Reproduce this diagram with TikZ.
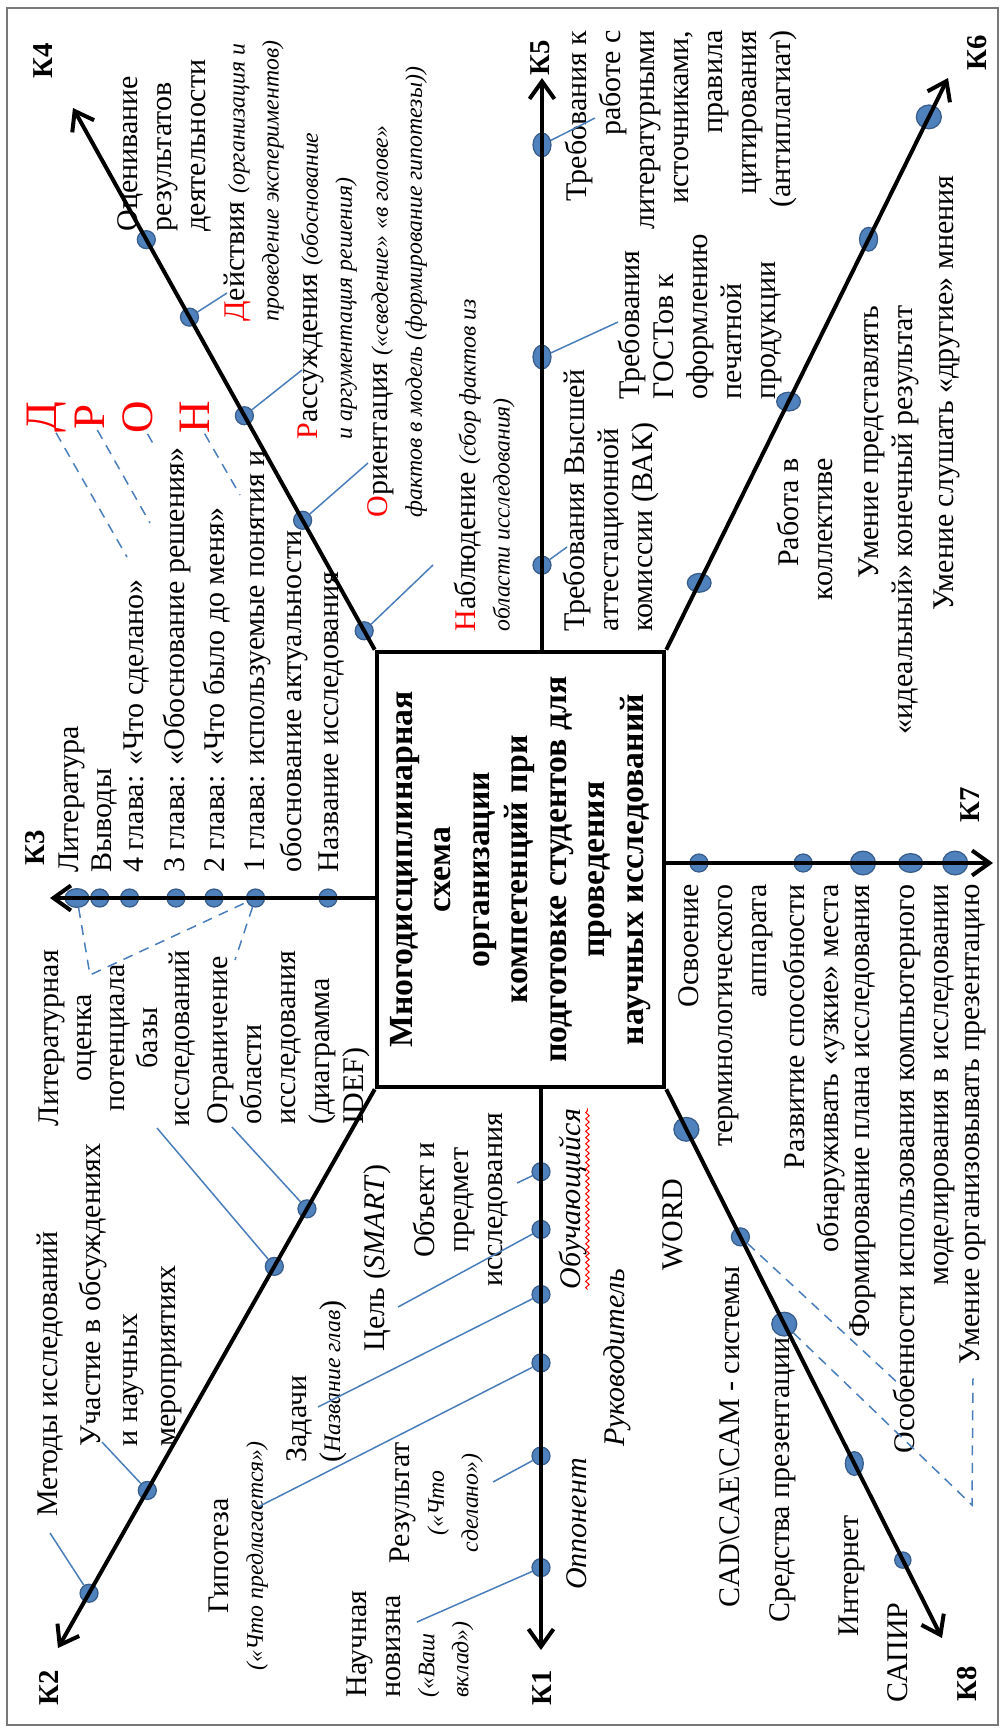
\documentclass[tikz,border=0pt]{standalone}
\usepackage{fontspec}
\setmainfont{Liberation Serif}
\usetikzlibrary{positioning,calc,arrows.meta,shapes.geometric,decorations.pathmorphing}

\definecolor{dotblue}{RGB}{79,129,189}
\definecolor{dotedge}{RGB}{56,93,138}
\definecolor{leadblue}{RGB}{74,126,187}
\definecolor{framegray}{RGB}{120,120,120}

\newcommand{\lblfont}{\fontsize{12}{13.6}\selectfont}
\newcommand{\itnote}[1]{{\fontsize{9.5}{11.5}\selectfont\itshape #1}}
\newcommand{\redcap}[1]{\textcolor{red}{#1}}

\tikzset{
  lbl/.style={rotate=90, inner sep=0pt, font=\lblfont},
  klbl/.style={rotate=90, inner sep=0pt, font=\fontsize{11.5}{13}\selectfont\bfseries},
  dronlbl/.style={rotate=90, inner sep=0pt, text=red, font=\fontsize{18}{18}\selectfont},
  dot/.style={ellipse, fill=dotblue, draw=dotedge, line width=0.5pt, inner sep=0pt,
    minimum width=7.2pt, minimum height=7.2pt},
  bigdot/.style={dot, minimum width=10pt, minimum height=9.5pt},
  talldot/.style={dot, minimum width=7.2pt, minimum height=9.5pt},
  widedot/.style={dot, minimum width=9.5pt, minimum height=7.5pt},
  axis/.style={line width=1.6pt, -{Straight Barb[length=7pt,width=10pt]}},
  leader/.style={draw=leadblue, line width=0.6pt},
  dashlink/.style={draw=leadblue, line width=0.6pt, dash pattern=on 4pt off 3pt},
  squiggle/.style={draw=red, line width=0.4pt, decorate,
    decoration={snake, amplitude=0.7pt, segment length=2.5pt}}
}

\begin{document}
\begin{tikzpicture}[x=0.4pt,y=-0.4pt]
\useasboundingbox (0,0) rectangle (1001,1728);
\draw[framegray, line width=0.8pt] (7,8) rectangle (998,1725);

% CENTRE

\node[rotate=90, draw, line width=1.8pt, inner sep=0pt, minimum width=174pt,
  minimum height=114.8pt, align=center, font=\fontsize{13.5}{15.4}\selectfont\bfseries]
  (box) at (520.5,869.5) {Многодисциплинарная\\схема\\организации\\компетенций при\\подготовке студентов для\\проведения\\научных исследований};

% AXIS ENDS

\coordinate (k1e) at (541,1650);
\coordinate (k2e) at (58,1648);
\coordinate (k3e) at (50,898);
\coordinate (k4e) at (73,108);
\coordinate (k5e) at (542,78);
\coordinate (k6e) at (948,78);
\coordinate (k7e) at (993,863);
\coordinate (k8e) at (942,1638);

\coordinate (k1s) at (k1e |- box.west);
\coordinate (k3s) at (k3e -| box.north);
\coordinate (k5s) at (k5e |- box.east);
\coordinate (k7s) at (k7e -| box.south);

% K4 LABELS

\node[lbl, anchor=west, align=left] (ocen) at (164,232) {Оценивание\\результатов\\деятельности};
\node[lbl, anchor=west, align=left] (deistv) at (254,322) {\redcap{Д}ействия \itnote{(организация и}\\\itnote{проведение экспериментов)}};
\node[lbl, anchor=west, align=left] (rassuzh) at (327.5,440) {\redcap{Р}ассуждения \itnote{(обоснование}\\\itnote{и аргументация решения)}};
\node[lbl, anchor=west, align=left] (orient) at (397.5,518) {\redcap{О}риентация \itnote{(«сведение» «в голове»}\\\itnote{фактов в модель (формирование гипотезы))}};
\node[lbl, anchor=west, align=left] (nabl) at (484.5,632) {\redcap{Н}аблюдение \itnote{(сбор фактов из}\\\itnote{области исследования)}};

\node[dronlbl] (dron1) at (47,417) {Д};
\node[dronlbl] (dron2) at (90,417) {Р};
\node[dronlbl] (dron3) at (138,417) {О};
\node[dronlbl] (dron4) at (195,417) {Н};

% K5 LABELS

\node[lbl, anchor=west, align=left] (vak) at (611,632) {Требования Высшей\\аттестационной\\комиссии (ВАК)};
\node[lbl, anchor=west, align=left] (gost) at (700,400) {Требования\\ГОСТов к\\оформлению\\печатной\\продукции};
\node[lbl, anchor=east, align=right] (antiplag) at (681,30) {Требования к\\работе с\\литературными\\источниками,\\правила\\цитирования\\(антиплагиат)};

% K6 LABELS

\node[lbl, anchor=east, align=right] (rabota) at (805,458) {Работа в\\коллективе};
\node[lbl, anchor=east, align=right] (predst) at (889,305) {Умение представлять\\«идеальный» конечный результат};
\node[lbl, anchor=east] (slushat) at (947,175) {Умение слушать «другие» мнения};

% K7 LABELS

\node[lbl, anchor=east, align=right] (osvoen) at (726,884) {Освоение\\терминологического\\аппарата};
\node[lbl, anchor=east, align=right] (razvit) at (814,884) {Развитие способности\\обнаруживать «узкие» места};
\node[lbl, anchor=east] (formir) at (863,884) {Формирование плана исследования};
\node[lbl, anchor=east, align=right] (osoben) at (923.5,884) {Особенности использования компьютерного\\моделирования в исследовании};
\node[lbl, anchor=east] (umprez) at (973,884) {Умение организовывать презентацию};

% K8 LABELS

\node[lbl] (word) at (673,1225) {WORD};
\node[lbl, anchor=west] (cad) at (730,1608) {CAD\textbackslash CAE\textbackslash CAM - системы};
\node[lbl, anchor=west] (sredstva) at (783,1623) {Средства презентации};
\node[lbl, anchor=west] (internet) at (852,1637) {Интернет};
\node[lbl, anchor=west] (sapir) at (898,1703) {САПИР};

% K1 LABELS

\node[lbl, align=center] (obekt) at (461,1200) {Объект и\\предмет\\исследования};
\node[lbl] (cel) at (377,1258) {Цель (\textit{SMART})};
\node[lbl, anchor=west, align=left] (zadachi) at (316.5,1463) {Задачи\\(\itnote{Название глав})};
\node[lbl, align=center] (gipoteza) at (238.5,1556) {Гипотеза\\\itnote{(«Что предлагается»)}};
\node[lbl, align=center] (rezultat) at (436.5,1503) {Результат\\\itnote{(«Что}\\\itnote{сделано»)}};
\node[lbl, anchor=west, align=left] (novizna) at (410,1698) {Научная\\новизна\\\itnote{(«Ваш}\\\itnote{вклад»)}};
\node[lbl, font=\lblfont\itshape] (obuch) at (573,1199) {Обучающийся};
\node[lbl, font=\lblfont\itshape] (rukov) at (617,1358) {Руководитель};
\node[lbl, font=\lblfont\itshape] (opponent) at (577,1524) {Оппонент};

% K2 LABELS

\node[lbl, anchor=west] (metody) at (50,1517) {Методы исследований};
\node[lbl, anchor=west, align=left, font=\fontsize{12}{15}\selectfont] (uchastie) at (130,1447) {Участие в обсуждениях\\и научных\\мероприятиях};
\node[lbl, align=center, font=\fontsize{12}{13.1}\selectfont] (litocenka) at (117.5,1038) {Литературная\\оценка\\потенциала\\базы\\исследований};
\node[lbl, anchor=west, align=left] (ogranich) at (288.5,1125) {Ограничение\\области\\исследования\\(диаграмма\\IDEF)};

% K3 LABELS

\node[lbl, anchor=west] (lit) at (72,873) {Литература};
\node[lbl, anchor=west] (vyvody) at (105,873) {Выводы};
\node[lbl, anchor=west] (gl4) at (137,873) {4 глава: «Что сделано»};
\node[lbl, anchor=west] (gl3) at (177,873) {3 глава: «Обоснование решения»};
\node[lbl, anchor=west] (gl2) at (217,873) {2 глава: «Что было до меня»};
\node[lbl, anchor=west, align=left, font=\fontsize{12}{14.8}\selectfont] (gl1) at (276.5,873) {1 глава: используемые понятия и\\обоснование актуальности};
\node[lbl, anchor=west] (nazv) at (332,873) {Название исследования};

% DOTS

\node[dot] (d11) at ($(k1s)!0.147!(k1e)$) {};
\node[dot] (d12) at ($(k1s)!0.250!(k1e)$) {};
\node[dot] (d13) at ($(k1s)!0.366!(k1e)$) {};
\node[dot] (d14) at ($(k1s)!0.488!(k1e)$) {};
\node[dot] (d15) at ($(k1s)!0.654!(k1e)$) {};
\node[dot] (d16) at ($(k1s)!0.853!(k1e)$) {};

\node[dot] (d21) at ($(box.north west)!0.214!(k2e)$) {};
\node[dot] (d22) at ($(box.north west)!0.317!(k2e)$) {};
\node[dot] (d23) at ($(box.north west)!0.718!(k2e)$) {};
\node[dot] (d24) at ($(box.north west)!0.902!(k2e)$) {};

\node[dot] (d31) at ($(k3s)!0.144!(k3e)$) {};
\node[dot] (d32) at ($(k3s)!0.367!(k3e)$) {};
\node[dot] (d33) at ($(k3s)!0.495!(k3e)$) {};
\node[dot] (d34) at ($(k3s)!0.612!(k3e)$) {};
\node[dot] (d35) at ($(k3s)!0.755!(k3e)$) {};
\node[dot] (d36) at ($(k3s)!0.847!(k3e)$) {};
\node[widedot] (d37) at ($(k3s)!0.917!(k3e)$) {};

\node[dot] (d41) at ($(box.north east)!0.035!(k4e)$) {};
\node[dot] (d42) at ($(box.north east)!0.239!(k4e)$) {};
\node[dot] (d43) at ($(box.north east)!0.432!(k4e)$) {};
\node[dot] (d44) at ($(box.north east)!0.614!(k4e)$) {};
\node[dot] (d45) at ($(box.north east)!0.757!(k4e)$) {};

\node[dot] (d51) at ($(k5s)!0.148!(k5e)$) {};
\node[talldot] (d52) at ($(k5s)!0.512!(k5e)$) {};
\node[talldot] (d53) at ($(k5s)!0.883!(k5e)$) {};

\node[widedot] (d61) at ($(box.south east)!0.117!(k6e)$) {};
\node[widedot] (d62) at ($(box.south east)!0.434!(k6e)$) {};
\node[talldot] (d63) at ($(box.south east)!0.718!(k6e)$) {};
\node[bigdot] (d64) at ($(box.south east)!0.932!(k6e)$) {};

\node[dot] (d71) at ($(k7s)!0.100!(k7e)$) {};
\node[dot] (d72) at ($(k7s)!0.419!(k7e)$) {};
\node[bigdot] (d73) at ($(k7s)!0.602!(k7e)$) {};
\node[widedot] (d74) at ($(k7s)!0.748!(k7e)$) {};
\node[bigdot] (d75) at ($(k7s)!0.884!(k7e)$) {};

\node[bigdot] (d81) at ($(box.south west)!0.073!(k8e)$) {};
\node[dot] (d82) at ($(box.south west)!0.269!(k8e)$) {};
\node[bigdot] (d83) at ($(box.south west)!0.428!(k8e)$) {};
\node[talldot] (d84) at ($(box.south west)!0.682!(k8e)$) {};
\node[dot, minimum size=6.5pt] (d85) at ($(box.south west)!0.858!(k8e)$) {};

% LEADERS

\draw[leader] (d11) -- ($(obekt)+(56,-17)$);
\draw[leader] (d12) -- ($(cel)+(21,49)$);
\draw[leader] (d13) -- ($(zadachi.west)+(1.5,-56)$);
\draw[leader] (d14) -- ($(gipoteza)+(19.5,-49)$);
\draw[leader] (d15) -- ($(rezultat)+(56.5,-21)$);
\draw[leader] (d16) -- ($(novizna.west)+(7,-76)$);

\draw[leader] (d21) -- ($(ogranich.west)+(-56.5,2)$);
\draw[leader] (d22) -- ($(litocenka)+(39.5,90)$);
\draw[leader] (d23) -- ($(uchastie.west)+(-28,-5)$);
\draw[leader] (d24) -- ($(metody.west)+(0,16)$);

\draw[leader] (d41) -- ($(nabl.west)+(-51.5,-67)$);
\draw[leader] (d42) -- ($(orient.west)+(-29.5,-55)$);
\draw[leader] (d43) -- ($(rassuzh.west)+(-25.5,-70)$);
\draw[leader] (d44) -- ($(deistv.west)+(-27,-29)$);

\draw[leader] (d51) -- ($(vak.west)+(-44,-85)$);
\draw[leader] (d52) -- ($(gost.west)+(-82,-78)$);
\draw[leader] (d53) -- ($(antiplag.east)+(-86,88)$);

% dashed links

\coordinate (dd1) at (127,557);
\coordinate (dd2) at (150,523);
\coordinate (dd3) at (155,447);
\coordinate (dd4) at (240,495);
\draw[dashlink] (dron1) -- (dd1);
\draw[dashlink] (dron2) -- (dd2);
\draw[dashlink] (dron3) -- (dd3);
\draw[dashlink] (dron4) -- (dd4);

\draw[dashlink] (d37) -- ($(litocenka)+(-27.5,-63)$) -- (d32);
\draw[dashlink] (d32) -- ($(ogranich.west)+(-53.5,-165)$);

\coordinate (prezcorner) at (972,1505);
\draw[dashlink] (d82) -- ($(osoben.east)+(-23.5,501)$);
\draw[dashlink] (d83) -- (prezcorner) -- ($(umprez.west)+(0,13)$);

\draw[squiggle] (obuch.south west) -- (obuch.south east);

% AXES

\draw[axis] (k1s) -- (k1e);
\draw[axis] (box.north west) -- (k2e);
\draw[axis] (k3s) -- (k3e);
\draw[axis] (box.north east) -- (k4e);
\draw[axis] (k5s) -- (k5e);
\draw[axis] (box.south east) -- (k6e);
\draw[axis] (k7s) -- (k7e);
\draw[axis] (box.south west) -- (k8e);

\node[klbl] (k1) at (542,1688) {К1};
\node[klbl] (k2) at (49,1688) {К2};
\node[klbl] (k3) at (35,848) {К3};
\node[klbl] (k4) at (43,61) {К4};
\node[klbl] (k5) at (540,58) {К5};
\node[klbl] (k6) at (977,53) {К6};
\node[klbl] (k7) at (970,805) {К7};
\node[klbl] (k8) at (967,1684) {К8};

\end{tikzpicture}
\end{document}
